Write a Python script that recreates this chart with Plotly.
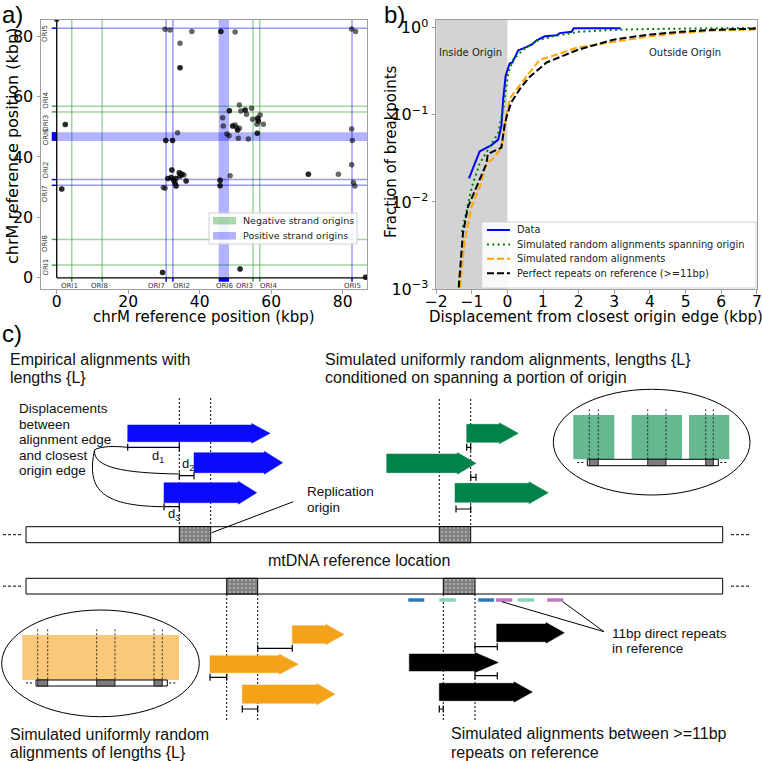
import plotly.graph_objects as go

W, H = 762, 761

# ---------------- a) breakpoint pairs on chrM (kbp) ----------------
bp_x = [0.0, 86.4, 30.3, 31.7, 37.8, 34.5, 34.5, 45.9, 49.9, 82.5, 83.6,
        2.4, 33.8, 30.5, 32.4, 1.4, 29.6, 51.3,
        29.8, 30.3, 31.1, 32.0, 32.2, 32.7, 33.3, 33.1, 33.4, 34.3, 35.0, 35.6, 34.5, 36.2,
        45.7, 45.7, 48.5,
        46.4, 48.3, 46.6, 47.6, 48.2, 49.2, 49.9, 50.3, 51.1, 50.6, 50.8, 51.1, 51.5, 52.7,
        53.1, 54.5, 54.8, 53.6, 56.0, 56.4, 56.2, 56.9, 56.1, 57.8,
        70.4, 78.8, 82.5, 82.7, 82.5, 83.0, 83.4]
bp_y = [85.6, 0.2, 82.2, 82.0, 81.5, 77.6, 69.5, 81.5, 81.3, 82.3, 81.5,
        50.7, 48.0, 45.4, 45.4, 29.4, 1.8, 2.9,
        29.9, 29.6, 32.9, 33.2, 35.7, 32.3, 32.9, 31.3, 30.4, 34.8, 34.3, 34.0, 33.7, 32.0,
        32.3, 30.5, 33.8,
        53.0, 55.3, 50.2, 47.6, 47.0, 50.2, 50.6, 49.7, 49.5, 48.9, 46.2, 57.2, 55.2, 55.5,
        54.1, 56.1, 52.5, 45.9, 50.8, 51.9, 52.8, 53.9, 47.8, 50.8,
        34.3, 34.3, 49.2, 45.4, 37.4, 31.5, 30.4]
# how many breakpoints fall on each point (overlaps render darker)
bp_n = [2, 2, 1, 1, 1, 1, 2, 2, 1, 1, 1,
        2, 1, 2, 2, 2, 2, 2,
        1, 1, 2, 2, 2, 2, 2, 2, 2, 2, 2, 1, 2, 2,
        2, 2, 1,
        1, 2, 1, 1, 1, 2, 1, 1, 1, 2, 1, 1, 1, 2,
        1, 1, 1, 1, 1, 2, 2, 1, 2, 1,
        2, 1, 1, 1, 1, 1, 1]

neg_names = ["ORI1", "ORI8", "ORI3", "ORI4"]
neg_pos = [4.2, 12.7, 54.9, 56.8]
pos_names = ["ORI7", "ORI2", "ORI5"]
pos_pos = [30.6, 32.5, 82.6]
ori6_span = [45.3, 48.2]

# ---------------- b) cumulative fraction of breakpoints ----------------
data_x = [-1.08, -0.78, -0.45, -0.26, -0.17, -0.12, -0.05, 0.06, 0.14, 0.30, 0.53,
          0.70, 0.82, 1.05, 1.38, 1.47, 1.80, 1.86, 3.18]
data_y = [0.0186, 0.038, 0.045, 0.052, 0.075, 0.15, 0.28, 0.39, 0.40, 0.55, 0.60,
          0.65, 0.72, 0.80, 0.82, 0.87, 0.90, 0.99, 0.99]
span_x = [-1.28, -1.1, -1.0, -0.78, -0.5, -0.26, -0.12, -0.05, 0.02, 0.16, 0.44,
          0.82, 1.28, 2.0, 3.0, 4.0, 5.0, 6.0, 7.0]
span_y = [0.0045, 0.0095, 0.0148, 0.0275, 0.043, 0.062, 0.115, 0.195, 0.30, 0.43, 0.56,
          0.71, 0.80, 0.90, 0.95, 0.97, 0.985, 0.99, 0.995]
rand_x = [-1.36, -1.2, -1.01, -0.78, -0.59, -0.40, -0.17, -0.10, -0.03, 0.07, 0.30,
          0.53, 0.91, 1.3, 1.94, 2.97, 3.9, 4.85, 5.8, 7.0]
rand_y = [0.0008, 0.0036, 0.0087, 0.0148, 0.0275, 0.0316, 0.042, 0.062, 0.10, 0.155, 0.21,
          0.275, 0.43, 0.48, 0.59, 0.69, 0.79, 0.87, 0.93, 0.955]
rep_x = [-1.39, -1.25, -1.11, -0.78, -0.59, -0.55, -0.26, -0.17, -0.08, -0.01, 0.11,
         0.39, 0.63, 1.1, 1.98, 2.97, 3.9, 4.85, 5.8, 7.0]
rep_y = [0.0008, 0.0043, 0.0087, 0.0178, 0.0275, 0.0355, 0.040, 0.042, 0.076, 0.10, 0.14,
         0.21, 0.275, 0.40, 0.56, 0.73, 0.83, 0.90, 0.95, 0.98]
b_xticks = [-2, -1, 0, 1, 2, 3, 4, 5, 6, 7]
b_ticks = [0.001, 0.01, 0.1, 1]
b_ticktext = ["10<sup>−3</sup>", "10<sup>−2</sup>", "10<sup>−1</sup>", "10<sup>0</sup>"]

# ---------------- c) schematic geometry (figure pixels) ----------------
ref_bars = [(26, 722.7, 526.7, 542.7), (26, 722.7, 578.3, 594)]
origin_boxes = [(179.3, 210.7, 526.7, 542.7), (439.3, 470.7, 526.7, 542.7),
                (226.7, 257.7, 578.3, 594), (443.3, 475, 578.3, 594)]
guides = [(179.3, 398, 526.7), (210.7, 398, 526.7), (439.3, 399, 526.7), (470.7, 399, 526.7),
          (226.7, 594, 720), (257.7, 594, 720), (443.3, 594, 720), (475, 594, 720)]
arrows_blue = [(127.7, 251.7, 270, 425, 441.7), (194, 264.3, 282.7, 452.7, 472.7),
               (164, 238.3, 256.7, 482.7, 502.7)]
arrows_green = [(466.7, 499.3, 518.3, 424.3, 442.3), (386.7, 457.3, 476, 454, 472.7),
                (455, 529, 548.3, 483.3, 502.3)]
arrows_orange = [(292.3, 325.7, 344, 625.7, 643.3), (210, 279.3, 298.3, 655.7, 672.7),
                 (242.3, 316.7, 335, 685, 703.3)]
arrows_black = [(496.7, 546, 564.3, 624, 641.7), (409.3, 475, 498.3, 654, 671),
                (439.3, 514, 532.3, 683.3, 700.7)]
gaps = [(127.7, 179.3, 447.3), (179.3, 194, 475.7), (164, 179.3, 506.7),
        (466.7, 470.7, 447.3), (470.7, 476, 477.3), (456, 470.7, 509),
        (257.7, 292.3, 648.3), (210, 226.7, 677.3), (242.3, 257.7, 709),
        (475, 497.3, 646.7), (475, 497.3, 675.7), (439.3, 443.3, 709)]
repeats = [(408.3, 424.3, "#2b78b8"), (439.3, 455.7, "#86d3bb"), (478.3, 494, "#2b78b8"),
           (496, 512.3, "#c077c3"), (517.7, 534, "#86d3bb"), (547.3, 563.3, "#c077c3")]
# zoomed insets: ellipse box, shaded windows, mini bar, mini origins, y of windows
inset_green = dict(ell=(553.3, 389.3, 750, 495), wins=[(573.3, 614.3), (631.7, 682), (689, 729.3)],
                   bar=(587.3, 718.3, 459.3, 465.7), oris=[(589.3, 598.3), (647.7, 666), (705.7, 713.3)],
                   wy=(415, 459.3), gy=409.3, color="#65b890")
inset_orange = dict(ell=(1.7, 610, 199.3, 716.7), wins=[(22.3, 179)],
                    bar=(36, 167.3, 680, 686), oris=[(37.7, 47.7), (96.7, 115), (154, 162.3)],
                    wy=(635, 680), gy=629.3, color="#f9c878")


def px(x):
    return x / W


def py(y):
    return 1 - y / H


fig = go.Figure()
shapes = []
ann = []
DJ = "DejaVu Sans"
LB = "Liberation Sans"


def note(x, y, text, size, family=DJ, xanchor="center", yanchor="middle", angle=0,
         xref="paper", yref="paper", color="black"):
    ann.append(dict(x=x, y=y, xref=xref, yref=yref, text=text, showarrow=False, textangle=angle,
                    xanchor=xanchor, yanchor=yanchor, font=dict(family=family, size=size, color=color)))


# ---------- panel a ----------
A_X = [-4.4, 86.8]
A_Y = [-3.7, 85.3]
GL, GT = "rgba(44,160,44,0.45)", "rgba(44,160,44,0.9)"
BL, BT = "rgba(0,0,255,0.4)", "rgba(0,0,255,1)"
for o in neg_pos + pos_pos:
    lc, tc = (GL, GT) if o in neg_pos else (BL, BT)
    shapes += [
        dict(type="line", xref="x", yref="y", x0=o, x1=o, y0=0, y1=A_Y[1], line=dict(color=lc, width=1.5), layer="below"),
        dict(type="line", xref="x", yref="y", x0=0, x1=A_X[1], y0=o, y1=o, line=dict(color=lc, width=1.5), layer="below"),
        dict(type="line", xref="x", yref="y", x0=o, x1=o, y0=-1.3, y1=0, line=dict(color=tc, width=1.5)),
        dict(type="line", xref="x", yref="y", x0=-1.4, x1=0, y0=o, y1=o, line=dict(color=tc, width=1.5)),
    ]
shapes += [
    dict(type="rect", xref="x", yref="y", x0=ori6_span[0], x1=ori6_span[1], y0=0, y1=A_Y[1],
         fillcolor="rgba(0,0,255,0.3)", line=dict(width=0), layer="below"),
    dict(type="rect", xref="x", yref="y", y0=ori6_span[0], y1=ori6_span[1], x0=0, x1=A_X[1],
         fillcolor="rgba(0,0,255,0.3)", line=dict(width=0), layer="below"),
    dict(type="rect", xref="x", yref="y", x0=ori6_span[0], x1=ori6_span[1], y0=-1.3, y1=0,
         fillcolor="#0000ff", line=dict(width=0)),
    dict(type="rect", xref="x", yref="y", y0=ori6_span[0], y1=ori6_span[1], x0=-1.4, x1=0,
         fillcolor="#0000ff", line=dict(width=0)),
    dict(type="line", xref="x", yref="y", x0=0, x1=0, y0=0, y1=A_Y[1], line=dict(color="black", width=1.3)),
    dict(type="line", xref="x", yref="y", x0=0, x1=A_X[1], y0=0, y1=0, line=dict(color="black", width=1.3)),
]
xs, ys = [], []
for x, y, n in zip(bp_x, bp_y, bp_n):
    xs += [x] * n
    ys += [y] * n
fig.add_trace(go.Scatter(x=xs, y=ys, mode="markers", xaxis="x", yaxis="y", showlegend=False,
                         marker=dict(color="black", size=5.5, opacity=0.6, line=dict(width=0))))

left_lab = {"ORI5": 80.9, "ORI4": 58.8, "ORI3": 51.2, "ORI6": 46.7, "ORI2": 35.7,
            "ORI7": 27.9, "ORI8": 11.4, "ORI1": 3.6}
bot_lab = {"ORI1": 3.7, "ORI8": 12.1, "ORI7": 27.8, "ORI2": 35.0, "ORI6": 46.9,
           "ORI3": 52.5, "ORI4": 59.2, "ORI5": 82.7}
for k, v in left_lab.items():
    note(-3.1, v, k, 7, angle=-90, xref="x", yref="y", color="#333")
for k, v in bot_lab.items():
    note(v, -2.6, k, 7, xref="x", yref="y", color="#333")

# legend a
shapes += [
    dict(type="rect", xref="paper", yref="paper", x0=px(209), x1=px(357), y0=py(244), y1=py(213),
         fillcolor="rgba(255,255,255,0.85)", line=dict(color="#d0d0d0", width=1)),
    dict(type="rect", xref="paper", yref="paper", x0=px(213), x1=px(236), y0=py(224.5), y1=py(217),
         fillcolor="rgba(44,160,44,0.4)", line=dict(width=0)),
    dict(type="rect", xref="paper", yref="paper", x0=px(213), x1=px(236), y0=py(239.5), y1=py(232),
         fillcolor="rgba(0,0,255,0.3)", line=dict(width=0)),
]
for t, yy in [("Negative strand origins", 220.7), ("Positive strand origins", 235.7)]:
    note(px(241), py(yy), t, 9.5, xanchor="left", color="#222")

# ---------- panel b ----------
shapes.append(dict(type="rect", xref="x2", yref="y2 domain", x0=-2, x1=0, y0=0, y1=1,
                   fillcolor="#d3d3d3", line=dict(width=0), layer="below"))
curves = [
    ("Data", data_x, data_y, "#0000ff", "solid"),
    ("Simulated random alignments spanning origin", span_x, span_y, "#008000", "2px,3.3px"),
    ("Simulated random alignments", rand_x, rand_y, "#ffa500", "7px,3px"),
    ("Perfect repeats on reference (>=11bp)", rep_x, rep_y, "black", "7px,3px"),
]
for name, cx, cy, col, dash in curves:
    fig.add_trace(go.Scatter(x=cx, y=cy, mode="lines", name=name, xaxis="x2", yaxis="y2",
                             showlegend=False, line=dict(color=col, width=2, dash=dash)))

shapes.append(dict(type="rect", xref="paper", yref="paper", x0=px(481.7), x1=px(756), y0=py(288), y1=py(222),
                   fillcolor="rgba(255,255,255,0.85)", line=dict(color="#d0d0d0", width=1)))
for i, (name, cx, cy, col, dash) in enumerate(curves):
    yy = 230 + i * 14.4
    shapes.append(dict(type="line", xref="paper", yref="paper", x0=px(487), x1=px(510), y0=py(yy), y1=py(yy),
                       line=dict(color=col, width=2, dash=dash)))
    note(px(515), py(yy), name, 9.8, xanchor="left", color="#222")
note(px(470), py(53), "Inside Origin", 10, color="#222")
note(px(685), py(53), "Outside Origin", 10, color="#222")

# axis titles & panel letters
note(px(204), py(317), "chrM reference position (kbp)", 15)
note(px(12), py(146), "chrM reference position (kbp)", 16, angle=-90)
note(px(596), py(317), "Displacement from closest origin edge (kbp)", 15)
note(px(391), py(152), "Fraction of breakpoints", 15, angle=-90)
note(0, py(-1), "a)", 24, family=LB, xanchor="left", yanchor="top")
note(px(382), py(-1), "b)", 24, family=LB, xanchor="left", yanchor="top")
note(0, py(318), "c)", 24, family=LB, xanchor="left", yanchor="top")

# ---------- panel c ----------
C = dict(xref="x3", yref="y3")


def arrow_path(x0, xb, xt, yt, yb, flare=1.5):
    ym = (yt + yb) / 2
    return (f"M{x0},{yt} L{xb},{yt} L{xb},{yt - flare} L{xt},{ym} "
            f"L{xb},{yb + flare} L{xb},{yb} L{x0},{yb} Z")


for (x0, x1, y0, y1) in ref_bars:
    ym = (y0 + y1) / 2
    shapes += [
        dict(type="rect", x0=x0, x1=x1, y0=y0, y1=y1, fillcolor="white", line=dict(color="black", width=1),
             layer="below", **C),
        dict(type="line", x0=3, x1=22, y0=ym, y1=ym, line=dict(color="black", width=1, dash="3px,2px"), **C),
        dict(type="line", x0=731, x1=750, y0=ym, y1=ym, line=dict(color="black", width=1, dash="3px,2px"), **C),
    ]
for (x0, x1, y0, y1) in origin_boxes:
    fig.add_trace(go.Scatter(x=[x0, x1, x1, x0, x0], y=[y0, y0, y1, y1, y0], mode="lines", fill="toself",
                             fillcolor="#7d7d7d", xaxis="x3", yaxis="y3", showlegend=False, hoverinfo="skip",
                             fillpattern=dict(shape=".", fgcolor="#d6d6d6", bgcolor="#7d7d7d", size=4, solidity=0.3),
                             line=dict(color="black", width=1)))
for (x, y0, y1) in guides:
    shapes.append(dict(type="line", x0=x, x1=x, y0=y0, y1=y1, line=dict(color="black", width=1, dash="2px,2px"), **C))

for group, col in [(arrows_blue, "#0a0aff"), (arrows_green, "#00834a"),
                   (arrows_orange, "#f5a21b"), (arrows_black, "black")]:
    for a in group:
        shapes.append(dict(type="path", path=arrow_path(*a), fillcolor=col, line=dict(color=col, width=0.5), **C))

for (x0, x1, y) in gaps:
    shapes.append(dict(type="path", path=f"M{x0},{y - 3.5} L{x0},{y + 3.5} M{x0},{y} L{x1},{y} "
                                         f"M{x1},{y - 3.5} L{x1},{y + 3.5}",
                       line=dict(color="black", width=1.2), **C))

# curly connectors from the "Displacements" label
for p in ["M127.7,447.3 C115,446 100,446 94.5,450",
          "M94.5,450 C93,468 125,473 178,474",
          "M94.5,450 C87,487 98,506 163,506.7"]:
    shapes.append(dict(type="path", path=p, line=dict(color="black", width=1), **C))
shapes.append(dict(type="line", x0=211.7, y0=532.7, x1=293.3, y1=501.7, line=dict(color="black", width=1), **C))

for (x0, x1, col) in repeats:
    shapes.append(dict(type="line", x0=x0, x1=x1, y0=600, y1=600, line=dict(color=col, width=3.5), **C))
for x0 in [501.7, 562.7]:
    shapes.append(dict(type="line", x0=x0, y0=601.7, x1=604, y1=631.7, line=dict(color="black", width=1), **C))

for ins in [inset_green, inset_orange]:
    ex0, ey0, ex1, ey1 = ins["ell"]
    shapes.append(dict(type="circle", x0=ex0, y0=ey0, x1=ex1, y1=ey1, line=dict(color="black", width=1), **C))
    for (w0, w1) in ins["wins"]:
        shapes.append(dict(type="rect", x0=w0, x1=w1, y0=ins["wy"][0], y1=ins["wy"][1],
                           fillcolor=ins["color"], line=dict(width=0), **C))
    bx0, bx1, by0, by1 = ins["bar"]
    bym = (by0 + by1) / 2
    shapes.append(dict(type="rect", x0=bx0, x1=bx1, y0=by0, y1=by1, fillcolor="white",
                       line=dict(color="black", width=1), **C))
    shapes.append(dict(type="line", x0=bx0 - 10, x1=bx0 - 2, y0=bym, y1=bym,
                       line=dict(color="black", width=1, dash="2px,2px"), **C))
    shapes.append(dict(type="line", x0=bx1 + 2, x1=bx1 + 10, y0=bym, y1=bym,
                       line=dict(color="black", width=1, dash="2px,2px"), **C))
    for (o0, o1) in ins["oris"]:
        shapes.append(dict(type="rect", x0=o0, x1=o1, y0=by0, y1=by1, fillcolor="#7d7d7d",
                           line=dict(color="black", width=0.8), **C))
        for xx in (o0, o1):
            shapes.append(dict(type="line", x0=xx, x1=xx, y0=ins["gy"], y1=by0,
                               line=dict(color="black", width=0.8, dash="2px,2px"), **C))


def ctext(x, y, lines, size, dy, anchor="left"):
    for i, t in enumerate(lines):
        note(x, y + i * dy, t, size, family=LB, xanchor=anchor, xref="x3", yref="y3", color="#111")


ctext(8, 360, ["Empirical alignments with", "lengths {L}"], 16, 18)
ctext(323, 360, ["Simulated uniformly random alignments, lengths {L}",
                 "conditioned on spanning a portion of origin"], 16, 18)
ctext(17, 409, ["Displacements", "between", "alignment edge", "and closest", "origin edge"], 13.5, 15.5)
ctext(305, 491.7, ["Replication", "origin"], 13.5, 15.6)
ctext(359, 560.7, ["mtDNA reference location"], 16, 18, anchor="center")
ctext(610, 633.3, ["11bp direct repeats", "in reference"], 13.5, 15)
ctext(8, 734, ["Simulated uniformly random", "alignments of lengths {L}"], 16, 18.7)
ctext(449.3, 733.3, ["Simulated alignments between >=11bp", "repeats on reference"], 16, 19.4)
ctext(150, 457, ["d<sub>1</sub>"], 13, 0)
ctext(180, 465, ["d<sub>2</sub>"], 13, 0)
ctext(166, 514, ["d<sub>3</sub>"], 13, 0)

ax_common = dict(showgrid=False, zeroline=False, showline=True, mirror=True, linecolor="#a0a0a0",
                 linewidth=1, ticks="outside", ticklen=3.5, tickcolor="#a0a0a0", automargin=False,
                 tickfont=dict(family=DJ, size=16, color="black"))
x_common = dict(ax_common, tickfont=dict(family=DJ, size=15.5, color="black"), ticklabelstandoff=-5)

fig.update_layout(
    width=W, height=H, margin=dict(l=0, r=0, t=0, b=0, pad=0), autosize=False,
    paper_bgcolor="white", plot_bgcolor="rgba(0,0,0,0)", showlegend=False,
    xaxis=dict(domain=[px(41), px(367)], range=A_X, anchor="y", tickvals=[0, 20, 40, 60, 80], **x_common),
    yaxis=dict(domain=[py(289), py(20)], range=A_Y, anchor="x", tickvals=[0, 20, 40, 60, 80], **ax_common),
    xaxis2=dict(domain=[px(436), px(757)], range=[-2.005, 7.005], anchor="y2", tickvals=b_xticks, **x_common),
    yaxis2=dict(domain=[py(289), py(20)], type="log", range=[-3, 0.09], anchor="x2",
                tickvals=b_ticks, ticktext=b_ticktext, **ax_common),
    xaxis3=dict(domain=[0, 1], range=[0, W], anchor="y3", visible=False, automargin=False),
    yaxis3=dict(domain=[0, py(310)], range=[H, 310], anchor="x3", visible=False, automargin=False),
    shapes=shapes, annotations=ann,
)

# the page body has a default 8px margin; drop it so the figure fills the window
fig.write_html("out.html", config={"displayModeBar": False},
               post_script="document.body.style.margin='0px';")
